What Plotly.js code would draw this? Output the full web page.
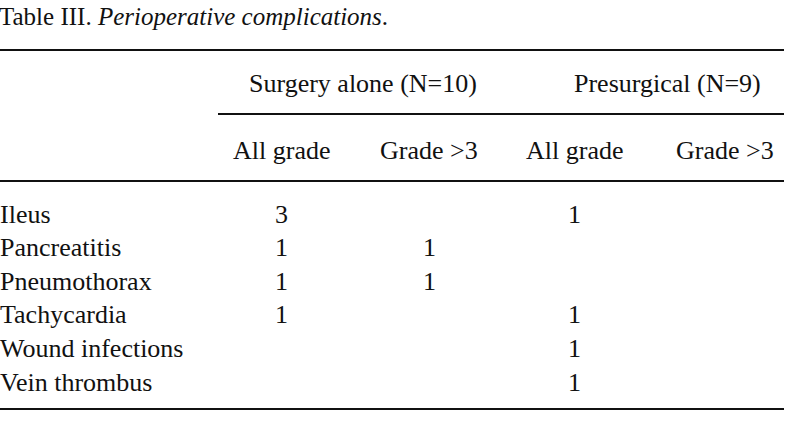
<!DOCTYPE html>
<html>
<head>
<meta charset="utf-8">
<script src="https://cdn.plot.ly/plotly-3.0.1.min.js"></script>
<style>html,body{margin:0;padding:0;background:#fff;}#chart{width:789px;height:439px;}</style>
</head>
<body>
<div id="chart"></div>
<script>
const tableTitle = "Table III. <i>Perioperative complications</i>.";
const groups = ["Surgery alone (N=10)", "Presurgical (N=9)"];
const subHeaders = ["All grade", "Grade >3", "All grade", "Grade >3"];
const complications = ["Ileus", "Pancreatitis", "Pneumothorax", "Tachycardia", "Wound infections", "Vein thrombus"];
const surgeryAll = ["3", "1", "1", "1", "", ""];
const surgeryGrade3 = ["", "1", "1", "", "", ""];
const presurgicalAll = ["1", "", "", "1", "1", "1"];
const presurgicalGrade3 = ["", "", "", "", "", ""];

// layout positions (pixel-like data coordinates)
const colX = [281, 429, 574, 725];
const groupX = [363, 667];
const rowY0 = 214, rowStep = 33.6;
const font = {family: "Liberation Serif", size: 26, color: "#111"};
const titleFont = {family: "Liberation Serif", size: 25, color: "#111"};

const annotations = [];
annotations.push({x: 0, y: 16, xshift: -2, xref: "x", yref: "y", text: tableTitle, showarrow: false,
  xanchor: "left", yanchor: "middle", font: titleFont, borderpad: 0});
groups.forEach((g, i) => annotations.push({x: groupX[i], y: 83, xref: "x", yref: "y", text: g,
  showarrow: false, xanchor: "center", yanchor: "middle", font: font}));
subHeaders.forEach((s, i) => annotations.push({x: colX[i], y: 150, xref: "x", yref: "y", text: s,
  showarrow: false, xanchor: "center", yanchor: "middle", font: font}));
const cols = [surgeryAll, surgeryGrade3, presurgicalAll, presurgicalGrade3];
complications.forEach((c, r) => {
  const y = rowY0 + r * rowStep;
  annotations.push({x: 0, y: y, xshift: -2, xref: "x", yref: "y", text: c, showarrow: false,
    xanchor: "left", yanchor: "middle", font: font});
  cols.forEach((col, ci) => {
    if (col[r] !== "") annotations.push({x: colX[ci], y: y, xref: "x", yref: "y", text: col[r],
      showarrow: false, xanchor: "center", yanchor: "middle", font: font});
  });
});

const lineStyle = {color: "#111", width: 2};
const shapes = [
  {type: "line", xref: "x", yref: "y", x0: 0, x1: 784, y0: 50, y1: 50, line: lineStyle},
  {type: "line", xref: "x", yref: "y", x0: 218, x1: 784, y0: 114, y1: 114, line: lineStyle},
  {type: "line", xref: "x", yref: "y", x0: 0, x1: 784, y0: 181, y1: 181, line: lineStyle},
  {type: "line", xref: "x", yref: "y", x0: 0, x1: 784, y0: 409, y1: 409, line: lineStyle}
];

const layout = {
  width: 789, height: 439,
  margin: {l: 0, r: 0, t: 0, b: 0},
  paper_bgcolor: "#fff", plot_bgcolor: "#fff",
  xaxis: {range: [0, 789], visible: false, fixedrange: true},
  yaxis: {range: [439, 0], visible: false, fixedrange: true},
  showlegend: false,
  annotations: annotations,
  shapes: shapes
};
Plotly.newPlot("chart", [{x: [], y: [], type: "scatter"}], layout, {displayModeBar: false, staticPlot: true});
</script>
</body>
</html>
